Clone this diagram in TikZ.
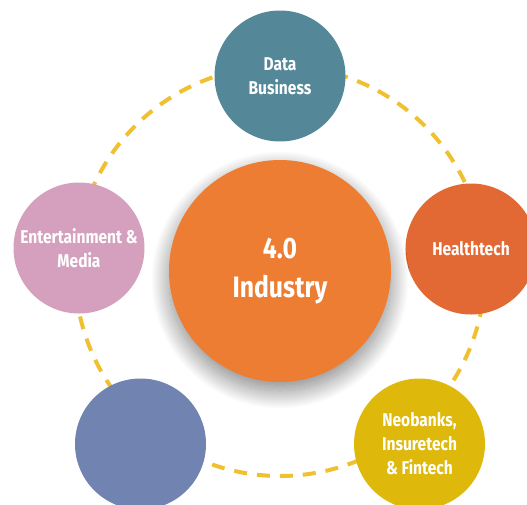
\documentclass[tikz,border=0pt]{standalone}
\usepackage{fontspec}
\setmainfont{Fira Sans}[FakeStretch=0.84]
\usetikzlibrary{shadows.blur}
\definecolor{cTeal}{RGB}{84,136,152}
\definecolor{cHealth}{RGB}{227,105,52}
\definecolor{cPink}{RGB}{212,160,189}
\definecolor{cBlue}{RGB}{113,131,176}
\definecolor{cYellow}{RGB}{223,184,12}
\definecolor{cOrange}{RGB}{237,125,50}
\definecolor{cDash}{RGB}{240,192,48}
\tikzset{
  sat/.style={circle, minimum size=131pt, inner sep=0pt, text=white, align=center,
    font=\bfseries\fontsize{18.5}{24}\selectfont},
  hub/.style={circle, minimum size=222pt, inner sep=0pt, text=white, align=center,
    fill=cOrange, font=\bfseries\fontsize{29.5}{39}\selectfont,
    blur shadow={shadow xshift=0pt, shadow yshift=-9pt, shadow blur radius=18pt,
      shadow blur steps=30, shadow opacity=48}},
  ring/.style={draw=cDash, line width=4pt, dash pattern=on 13pt off 10pt}
}
\begin{document}
\begin{tikzpicture}[x=1pt,y=-1pt]
\useasboundingbox (0,0) rectangle (527,504);
\coordinate (mid) at (280,271);
\draw[ring] (mid) circle[radius=205pt];
\node[sat, fill=cTeal] (data) at (280,76) {Data\\Business};
\node[sat, fill=cHealth] (health) at (471,249) {Healthtech};
\node[sat, fill=cPink] (ent) at (79,248) {Entertainment \&\\Media};
\node[sat, fill=cBlue] (blue) at (140.5,444) {};
\node[sat, fill=cYellow] (fin) at (419.5,444) {Neobanks,\\Insuretech\\\& Fintech};
\node[hub] (hubnode) at (280,271) {4.0\\Industry};
\end{tikzpicture}
\end{document}
